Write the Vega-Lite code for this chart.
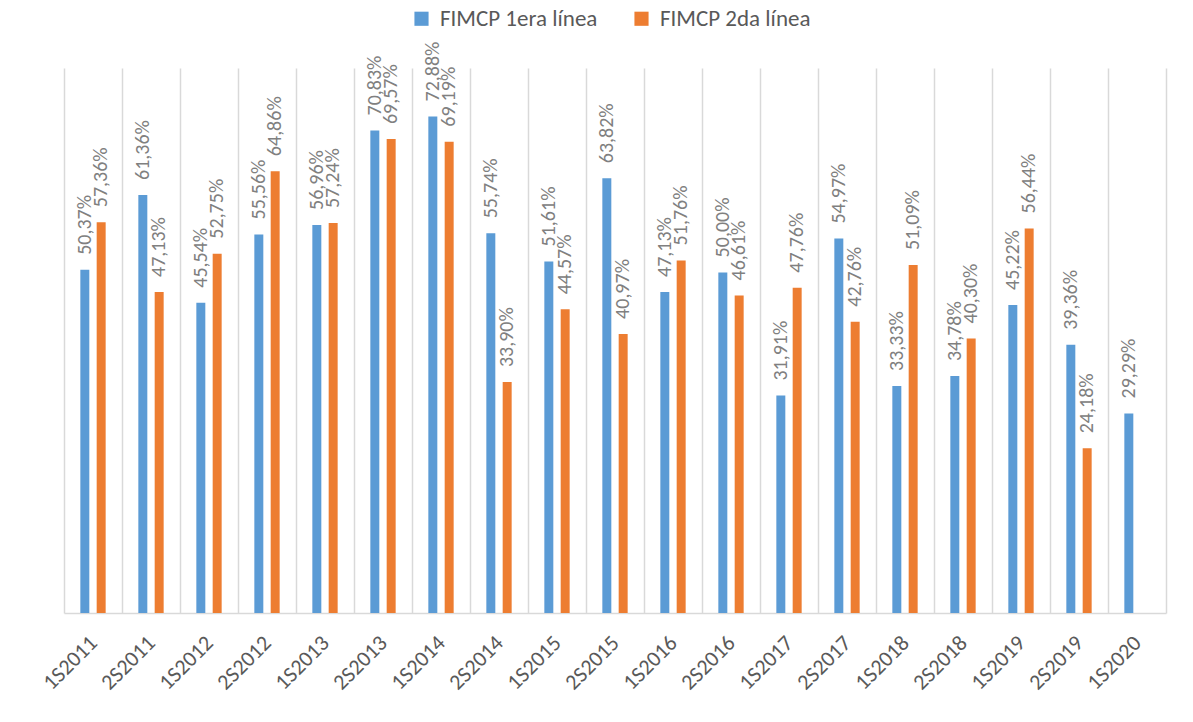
{
  "$schema": "https://vega.github.io/schema/vega-lite/v6.json",
  "width": 1102,
  "height": 545,
  "autosize": {"type": "none"},
  "padding": {"left": 64, "top": 68, "right": 27, "bottom": 109},
  "background": "white",
  "config": {
    "locale": {"number": {"decimal": ",", "thousands": ".", "grouping": [3], "currency": ["", " €"]}},
    "view": {"stroke": null},
    "font": "Carlito, Lato"
  },
  "data": {
    "values": [
      {"periodo": "1S2011", "serie": "FIMCP 1era línea", "valor": 0.5037},
      {"periodo": "1S2011", "serie": "FIMCP 2da línea", "valor": 0.5736},
      {"periodo": "2S2011", "serie": "FIMCP 1era línea", "valor": 0.6136},
      {"periodo": "2S2011", "serie": "FIMCP 2da línea", "valor": 0.4713},
      {"periodo": "1S2012", "serie": "FIMCP 1era línea", "valor": 0.4554},
      {"periodo": "1S2012", "serie": "FIMCP 2da línea", "valor": 0.5275},
      {"periodo": "2S2012", "serie": "FIMCP 1era línea", "valor": 0.5556},
      {"periodo": "2S2012", "serie": "FIMCP 2da línea", "valor": 0.6486},
      {"periodo": "1S2013", "serie": "FIMCP 1era línea", "valor": 0.5696},
      {"periodo": "1S2013", "serie": "FIMCP 2da línea", "valor": 0.5724},
      {"periodo": "2S2013", "serie": "FIMCP 1era línea", "valor": 0.7083},
      {"periodo": "2S2013", "serie": "FIMCP 2da línea", "valor": 0.6957},
      {"periodo": "1S2014", "serie": "FIMCP 1era línea", "valor": 0.7288},
      {"periodo": "1S2014", "serie": "FIMCP 2da línea", "valor": 0.6919},
      {"periodo": "2S2014", "serie": "FIMCP 1era línea", "valor": 0.5574},
      {"periodo": "2S2014", "serie": "FIMCP 2da línea", "valor": 0.3390},
      {"periodo": "1S2015", "serie": "FIMCP 1era línea", "valor": 0.5161},
      {"periodo": "1S2015", "serie": "FIMCP 2da línea", "valor": 0.4457},
      {"periodo": "2S2015", "serie": "FIMCP 1era línea", "valor": 0.6382},
      {"periodo": "2S2015", "serie": "FIMCP 2da línea", "valor": 0.4097},
      {"periodo": "1S2016", "serie": "FIMCP 1era línea", "valor": 0.4713},
      {"periodo": "1S2016", "serie": "FIMCP 2da línea", "valor": 0.5176},
      {"periodo": "2S2016", "serie": "FIMCP 1era línea", "valor": 0.5000},
      {"periodo": "2S2016", "serie": "FIMCP 2da línea", "valor": 0.4661},
      {"periodo": "1S2017", "serie": "FIMCP 1era línea", "valor": 0.3191},
      {"periodo": "1S2017", "serie": "FIMCP 2da línea", "valor": 0.4776},
      {"periodo": "2S2017", "serie": "FIMCP 1era línea", "valor": 0.5497},
      {"periodo": "2S2017", "serie": "FIMCP 2da línea", "valor": 0.4276},
      {"periodo": "1S2018", "serie": "FIMCP 1era línea", "valor": 0.3333},
      {"periodo": "1S2018", "serie": "FIMCP 2da línea", "valor": 0.5109},
      {"periodo": "2S2018", "serie": "FIMCP 1era línea", "valor": 0.3478},
      {"periodo": "2S2018", "serie": "FIMCP 2da línea", "valor": 0.4030},
      {"periodo": "1S2019", "serie": "FIMCP 1era línea", "valor": 0.4522},
      {"periodo": "1S2019", "serie": "FIMCP 2da línea", "valor": 0.5644},
      {"periodo": "2S2019", "serie": "FIMCP 1era línea", "valor": 0.3936},
      {"periodo": "2S2019", "serie": "FIMCP 2da línea", "valor": 0.2418},
      {"periodo": "1S2020", "serie": "FIMCP 1era línea", "valor": 0.2929}
    ]
  },
  "encoding": {
    "x": {
      "field": "periodo", "type": "nominal", "sort": null,
      "scale": {"paddingInner": 0, "paddingOuter": 0},
      "axis": {
        "title": null, "labelAngle": -45, "labelAlign": "right", "labelBaseline": "middle",
        "labelFontSize": 22, "labelColor": "#595959",
        "labelPadding": 26, "ticks": false, "tickBand": "extent",
        "grid": true, "gridColor": "#D9D9D9", "gridWidth": 1.5,
        "domainColor": "#D9D9D9", "domainWidth": 1.5
      }
    },
    "xOffset": {
      "field": "serie", "type": "nominal",
      "scale": {"paddingInner": 0.45, "paddingOuter": 1.2}
    },
    "y": {
      "field": "valor", "type": "quantitative",
      "scale": {"domain": [0, 0.8], "nice": false},
      "axis": null
    }
  },
  "layer": [
    {
      "mark": {"type": "bar"},
      "encoding": {
        "color": {
          "field": "serie", "type": "nominal",
          "scale": {"domain": ["FIMCP 1era línea", "FIMCP 2da línea"], "range": ["#5B9BD5", "#ED7D31"]},
          "legend": {
            "title": null, "orient": "none", "direction": "horizontal",
            "legendX": 346, "legendY": -61,
            "symbolType": "square", "symbolSize": 200, "symbolStrokeWidth": 0,
            "labelFontSize": 23, "labelColor": "#595959", "columnPadding": 32, "labelOffset": 7
          }
        }
      }
    },
    {
      "mark": {"type": "text", "angle": 270, "align": "left", "baseline": "middle", "dx": 15, "fontSize": 20, "color": "#808080"},
      "encoding": {
        "text": {"field": "valor", "type": "quantitative", "format": ".2%"}
      }
    }
  ]
}
